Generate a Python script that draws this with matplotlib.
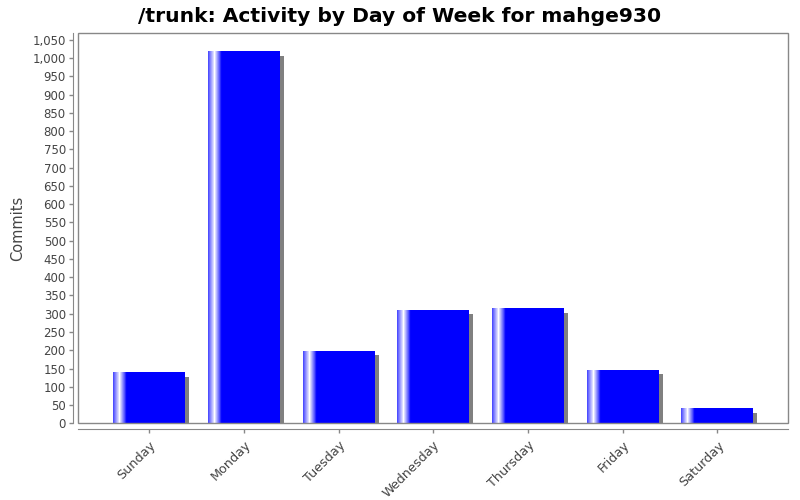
import matplotlib
matplotlib.use('Agg')
import matplotlib.pyplot as plt
import matplotlib.transforms as mtransforms
from matplotlib.patches import Rectangle
from matplotlib.ticker import FuncFormatter, MultipleLocator
import numpy as np

# =============================================================================

days = ['Sunday', 'Monday', 'Tuesday', 'Wednesday', 'Thursday', 'Friday', 'Saturday']
commits = [138, 1016, 197, 309, 314, 145, 39]

title = '/trunk: Activity by Day of Week for mahge930'
yLabel = 'Commits'

# =============================================================================


def gradientStrip(n=300):
    """Blue -> white -> blue highlight near the left edge of each bar"""
    blue = np.array([0.0, 0.0, 1.0])
    white = np.array([1.0, 1.0, 1.0])
    t = np.linspace(0, 1, n)
    w = np.zeros(n)
    up = t < 0.09
    w[up] = 0.25 + 0.75 * t[up] / 0.09
    down = (t >= 0.09) & (t < 0.19)
    w[down] = 1 - (t[down] - 0.09) / 0.10
    rgb = blue[None, :] * (1 - w[:, None]) + white[None, :] * w[:, None]
    return rgb[None, :, :]


def plotBuilder():
    fig = plt.figure(figsize=(8, 5), dpi=100)
    ax = fig.add_axes([78.3 / 800, (500 - 423.3) / 500, 710 / 800, 390 / 500])

    barWidth = 0.76
    grey = '#888888'
    strip = gradientStrip()
    shadowTrans = ax.transData + mtransforms.ScaledTranslation(
        4 / 100, -4 / 100, fig.dpi_scale_trans)

    for i, val in enumerate(commits):
        x0 = i - barWidth / 2
        # shadow
        ax.add_patch(Rectangle((x0, 0), barWidth, val, facecolor='#808080',
                               edgecolor='none', transform=shadowTrans, zorder=1))
        # bar with gradient highlight
        ax.imshow(strip, extent=[x0, x0 + barWidth, 0, val], aspect='auto',
                  interpolation='nearest', zorder=2)

    ax.set_xlim(-0.75, 6.75)
    ax.set_ylim(0, 1068)

    # frame around the plot area
    for s in ax.spines.values():
        s.set_visible(False)
    ax.add_patch(Rectangle((0, 0), 1, 1, transform=ax.transAxes, fill=False,
                           edgecolor=grey, lw=1, clip_on=False, zorder=5))

    # separate axis lines, slightly outward
    ax.spines['left'].set_visible(True)
    ax.spines['bottom'].set_visible(True)
    ax.spines['left'].set_position(('outward', 4))
    ax.spines['bottom'].set_position(('outward', 4))
    ax.spines['left'].set_color(grey)
    ax.spines['bottom'].set_color(grey)

    ax.yaxis.set_major_locator(MultipleLocator(50))
    ax.yaxis.set_major_formatter(FuncFormatter(lambda v, p: '{:,.0f}'.format(v)))
    ax.set_xticks(range(len(days)))
    ax.set_xticklabels(days, rotation=45, ha='right', rotation_mode='anchor')
    ax.tick_params(axis='both', colors=grey, labelcolor='#444444',
                   labelsize=8.5, length=3, width=1)
    ax.tick_params(axis='y', pad=2)
    ax.tick_params(axis='x', pad=4, labelsize=9.2)

    ax.set_ylabel(yLabel, fontsize=10.5, color='#444444', labelpad=5)
    fig.text(0.5, 0.968, title, ha='center', va='center',
             fontsize=14.6, fontweight='bold', color='black')

    plt.savefig('out.png', dpi=100)

# =============================================================================


def main():
    plotBuilder()

# =============================================================================


if __name__ == '__main__':
    main()
